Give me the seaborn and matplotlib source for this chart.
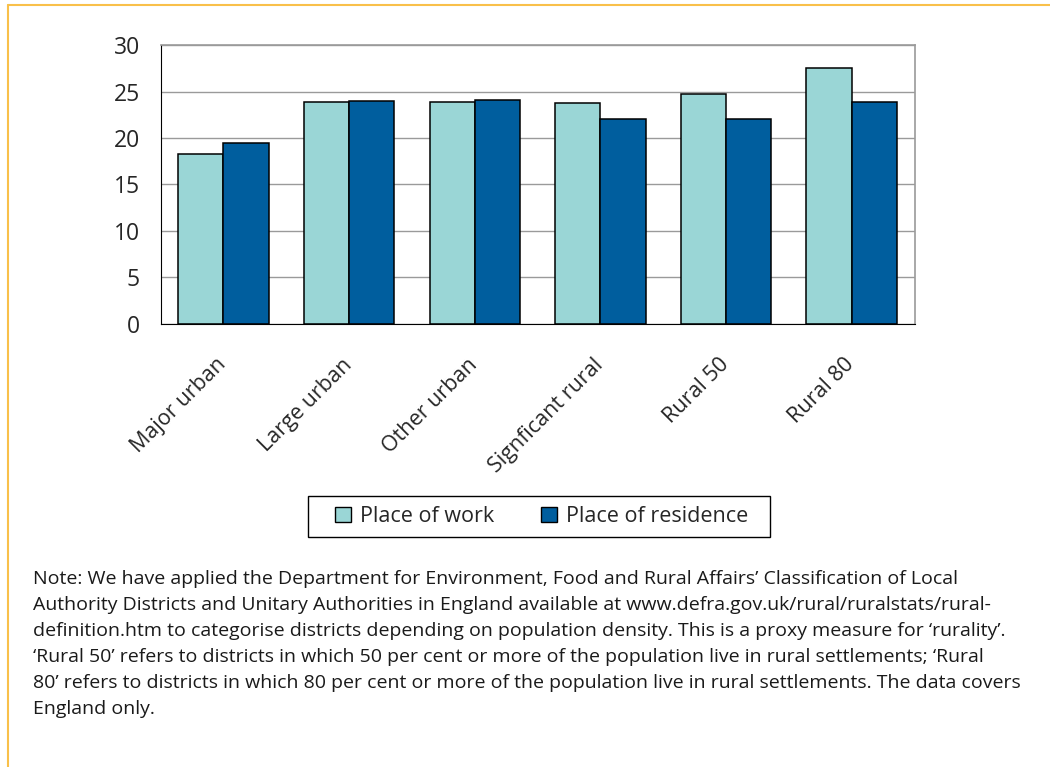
import pandas as pd
import matplotlib.pyplot as plt
import matplotlib.transforms as mtransforms
import seaborn as sns
from matplotlib.patches import Rectangle
from matplotlib.lines import Line2D

categories = ['Major urban', 'Large urban', 'Other urban', 'Signficant rural', 'Rural 50', 'Rural 80']
place_of_work = [18.3, 23.9, 23.9, 23.8, 24.8, 27.6]
place_of_residence = [19.5, 24.0, 24.1, 22.1, 22.1, 23.9]
series_names = ['Place of work', 'Place of residence']
colors = ['#9AD6D6', '#005E9E']

note = ("Note: We have applied the Department for Environment, Food and Rural Affairs\u2019 Classification of Local\n"
        "Authority Districts and Unitary Authorities in England available at www.defra.gov.uk/rural/ruralstats/rural-\n"
        "definition.htm to categorise districts depending on population density. This is a proxy measure for \u2018rurality\u2019.\n"
        "\u2018Rural 50\u2019 refers to districts in which 50 per cent or more of the population live in rural settlements; \u2018Rural\n"
        "80\u2019 refers to districts in which 80 per cent or more of the population live in rural settlements. The data covers\n"
        "England only.")

df = pd.DataFrame({
    'category': categories * 2,
    'value': place_of_work + place_of_residence,
    'series': [series_names[0]] * len(categories) + [series_names[1]] * len(categories),
})

sns.set_style('white')
plt.rcParams['font.family'] = ['Open Sans', 'DejaVu Sans']

fig = plt.figure(figsize=(10.5, 7.67), dpi=100)
ax = fig.add_axes([0.153, 0.578, 0.718, 0.363])

sns.barplot(data=df, x='category', y='value', hue='series', palette=colors,
            width=0.72, edgecolor='black', linewidth=1.1, ax=ax, legend=False, saturation=1)

ax.set_ylim(0, 30)
ax.set_xlim(-0.5, len(categories) - 0.5)
ax.set_yticks(range(0, 31, 5))
ax.yaxis.grid(True, color='#9a9a9a', linewidth=1)
ax.set_axisbelow(True)
ax.set_xlabel('')
ax.set_ylabel('')

ax.set_xticks(range(len(categories)))
ax.set_xticklabels(categories, rotation=45, ha='right', rotation_mode='anchor', fontsize=15.5)
ax.tick_params(axis='x', which='major', length=0, pad=22)
# shift labels a bit left so they end over the group centre
shift = mtransforms.ScaledTranslation(-8 / 100, 0, fig.dpi_scale_trans)
for lbl in ax.get_xticklabels():
    lbl.set_transform(lbl.get_transform() + shift)
ax.set_xticks([i - 0.5 for i in range(len(categories) + 1)], minor=True)
ax.tick_params(axis='x', which='minor', length=7, width=1, color='black', direction='out')
ax.tick_params(axis='y', length=7, width=1, color='black', direction='out', labelsize=16.5, pad=8)

for side in ['top', 'right']:
    ax.spines[side].set_color('#9a9a9a')
    ax.spines[side].set_linewidth(1.2)
ax.spines['left'].set_color('black')
ax.spines['bottom'].set_color('black')

# legend (frame drawn separately for the wider side padding)
handles = [Rectangle((0, 0), 1, 1, facecolor=c, edgecolor='black', linewidth=1) for c in colors]
leg = fig.legend(handles, series_names, loc='center', bbox_to_anchor=(0.5157, 0.3266), ncol=2,
                 fontsize=15.5, frameon=False,
                 handlelength=0.75, handleheight=0.75, handletextpad=0.4, columnspacing=2.2)
fig.add_artist(Rectangle((0.2933, 0.2999), 0.44, 0.0534, transform=fig.transFigure,
                         facecolor='none', edgecolor='black', linewidth=1))

# note
fig.text(0.031, 0.257, note, fontsize=14, va='top', ha='left', linespacing=1.58, color='#1a1a1a')

# orange frame
fig.add_artist(Line2D([0.008, 1.0], [0.993, 0.993], color='#F9C04A', linewidth=1.5))
fig.add_artist(Line2D([0.008, 0.008], [0.993, 0.0], color='#F9C04A', linewidth=1.5))

fig.savefig('out.png', dpi=100)
